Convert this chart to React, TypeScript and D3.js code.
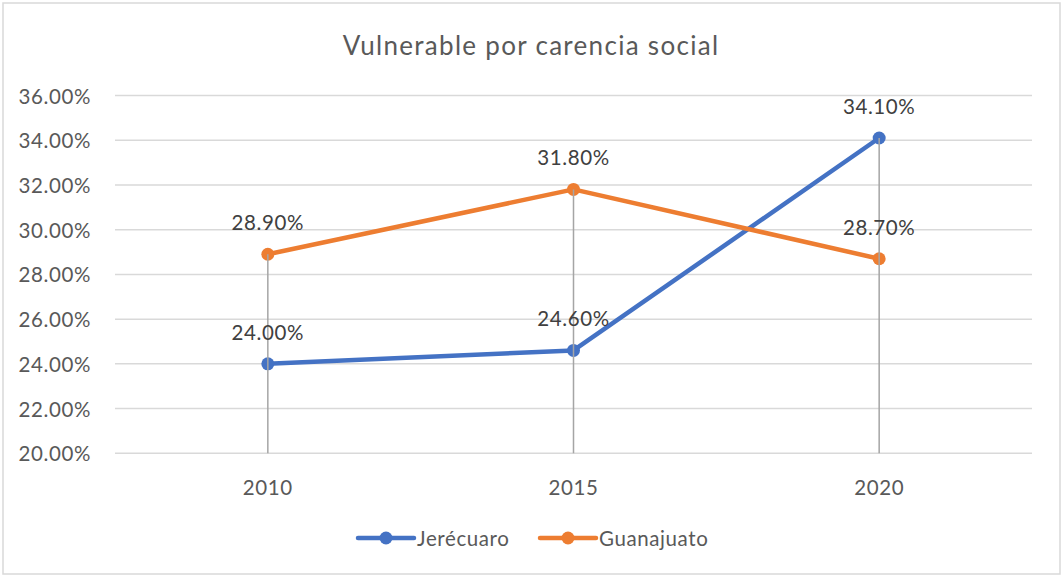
import React from "react";
import * as d3 from "d3";

const categories = ["2010", "2015", "2020"];
const jerecuaro = [24.0, 24.6, 34.1];
const guanajuato = [28.9, 31.8, 28.7];
const yTicks = [20, 22, 24, 26, 28, 30, 32, 34, 36];
const seriesNames = ["Jerécuaro", "Guanajuato"];
const seriesColors = ["#4472C4", "#ED7D31"];
const title = "Vulnerable por carencia social";

const W = 1062;
const H = 576;
const FONT = "Lato, 'Open Sans', sans-serif";
const FS = 20.5;
const LS = 0.6;

export default function App() {
  const x = d3.scaleBand<string>().domain(categories).range([115, 1032]);
  const y = d3.scaleLinear().domain([20, 36]).range([453.3, 95.5]);
  const cx = (c: string) => (x(c) as number) + x.bandwidth() / 2;
  const line = d3
    .line<number>()
    .x((_, i) => cx(categories[i]))
    .y((d) => y(d));
  const series = [jerecuaro, guanajuato];
  const fmt = (v: number) => v.toFixed(2) + "%";

  return (
    <svg
      width={W}
      height={H}
      style={{ position: "absolute", left: 0, top: 0, background: "#fff" }}
      fontFamily={FONT}
    >
      <rect x={3} y={3} width={1057} height={571} fill="#fff" stroke="#D9D9D9" strokeWidth={1.5} />
      <text x={531} y={45} textAnchor="middle" dominantBaseline="central" fontSize={26} letterSpacing={1.3} fill="#595959">
        {title}
      </text>
      {yTicks.map((t) => (
        <g key={t}>
          <line x1={115} x2={1032} y1={y(t)} y2={y(t)} stroke="#D9D9D9" strokeWidth={1.5} />
          <text x={91} y={y(t)} textAnchor="end" dominantBaseline="central" fontSize={FS} letterSpacing={LS} fill="#595959">
            {fmt(t)}
          </text>
        </g>
      ))}
      {categories.map((c) => (
        <text key={c} x={cx(c)} y={487} textAnchor="middle" dominantBaseline="central" fontSize={FS} letterSpacing={LS} fill="#595959">
          {c}
        </text>
      ))}
      {series.map((s, si) => (
        <path
          key={si}
          d={line(s) as string}
          fill="none"
          stroke={seriesColors[si]}
          strokeWidth={4.5}
          strokeLinejoin="round"
          strokeLinecap="round"
        />
      ))}
      {series.map((s, si) =>
        s.map((v, i) => (
          <circle key={si + "-" + i} cx={cx(categories[i])} cy={y(v)} r={6.5} fill={seriesColors[si]} />
        ))
      )}
      {categories.map((c, i) => {
        const top = Math.max(jerecuaro[i], guanajuato[i]);
        return (
          <line key={c} x1={cx(c)} x2={cx(c)} y1={y(top)} y2={y(20)} stroke="#A5A5A5" strokeWidth={1.5} />
        );
      })}
      {series.map((s, si) =>
        s.map((v, i) => (
          <text
            key={"l" + si + "-" + i}
            x={cx(categories[i])}
            y={y(v) - 32}
            textAnchor="middle"
            dominantBaseline="central"
            fontSize={FS}
            letterSpacing={LS}
            fill="#404040"
          >
            {fmt(v)}
          </text>
        ))
      )}
      {seriesNames.map((n, i) => {
        const lx = i === 0 ? 358 : 540;
        const ly = 538;
        return (
          <g key={n}>
            <line x1={lx} x2={lx + 56} y1={ly} y2={ly} stroke={seriesColors[i]} strokeWidth={4.5} strokeLinecap="round" />
            <circle cx={lx + 28} cy={ly} r={6.5} fill={seriesColors[i]} />
            <text x={lx + 59} y={ly} dominantBaseline="central" fontSize={FS} letterSpacing={LS} fill="#595959">
              {n}
            </text>
          </g>
        );
      })}
    </svg>
  );
}
